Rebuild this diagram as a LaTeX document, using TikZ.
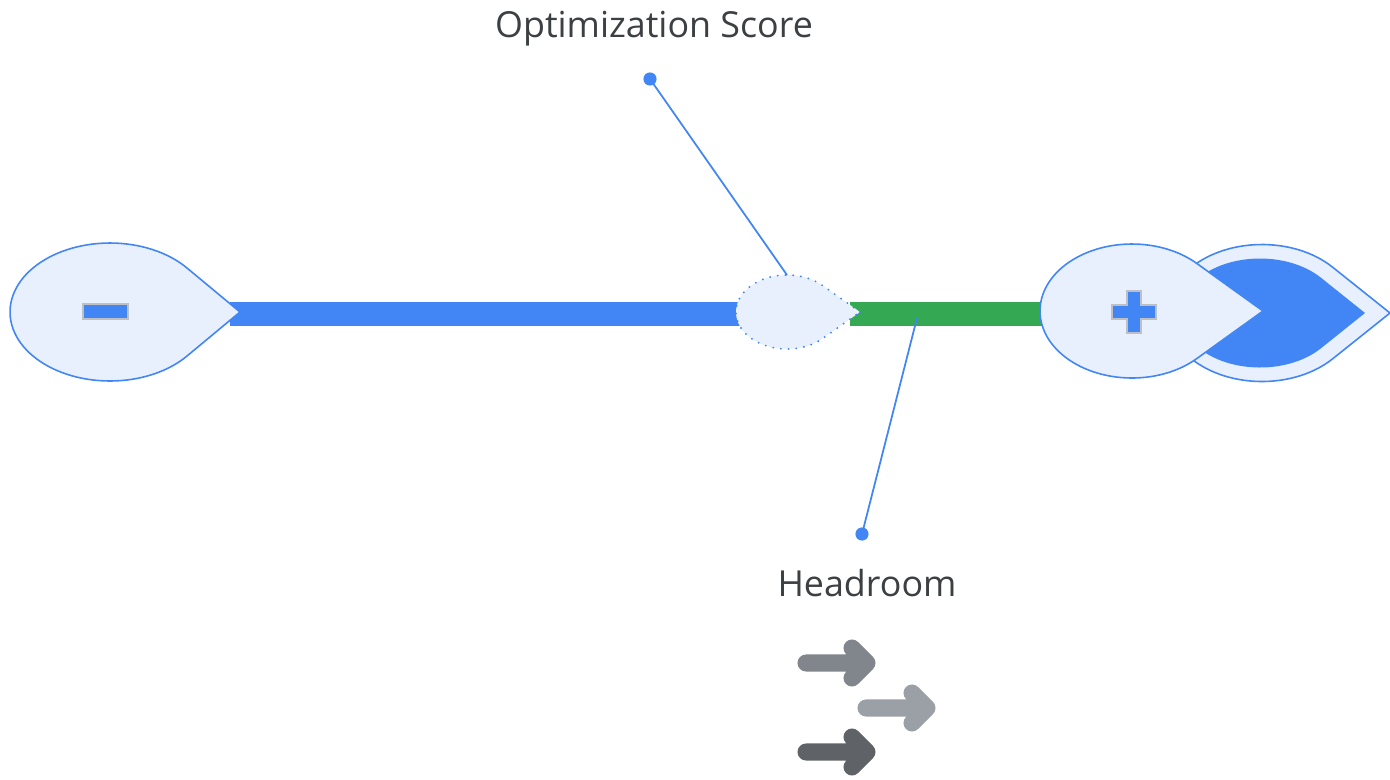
\documentclass[tikz,border=0pt]{standalone}
\usepackage{fontspec}
\setmainfont{Open Sans}
\usetikzlibrary{positioning}

\definecolor{gblue}{HTML}{4285F4}
\definecolor{gpale}{HTML}{E8F0FE}
\definecolor{ggreen}{HTML}{34A853}
\definecolor{signedge}{HTML}{BDC1C6}
\definecolor{textgray}{HTML}{3C4043}
\definecolor{arrowmid}{HTML}{80868B}
\definecolor{arrowlight}{HTML}{9AA0A6}
\definecolor{arrowdark}{HTML}{5F6368}

% teardrop: options, centre x, centre y, x radius, y radius, tip x
\newcommand\dropshape[6]{%
  \pgfmathsetmacro\dropang{acos(#4/(#6-#2))}%
  \pgfmathsetmacro\dropend{360-\dropang}%
  \path[#1] (#6,#3) -- plot[domain=\dropang:\dropend, samples=90]
    ({#2+#4*cos(\x)},{#3-#5*sin(\x)}) -- cycle;}

\begin{document}
\begin{tikzpicture}[x=0.02cm, y=-0.02cm,
    pin/.style={fill=gpale, draw=gblue, line width=0.9pt},
    leader/.style={draw=gblue, line width=1pt},
    leaderdot/.style={circle, fill=gblue, inner sep=0pt, minimum size=7.5pt},
    caption/.style={font=\fontsize{20.4}{24}\selectfont, text=textgray, inner sep=0pt},
    sign/.style={fill=gblue, draw=signedge, line width=1.1pt},
    icon/.style={line width=9.7pt, line cap=round, line join=round}]
  \useasboundingbox (0,0) rectangle (1390,779);

  \fill[gblue]  (230,302) rectangle (750,326);
  \fill[ggreen] (850,302) rectangle (1060,326);

  \dropshape{pin}{110}{312}{100}{69}{240}
  \filldraw[sign] (83,304) rectangle (128,319);

  \dropshape{fill=gpale, draw=gblue, line width=1.2pt, dash pattern=on 0pt off 4.4pt, line cap=round}{787}{312}{51}{37}{860}

  \dropshape{pin}{1262}{313}{95}{68.5}{1390}
  \dropshape{fill=gblue}{1260}{313}{80}{54.5}{1365}
  \dropshape{pin}{1132}{311}{92}{67}{1263}
  \filldraw[sign] (1127,291) -- (1141,291) -- (1141,305) -- (1156,305) -- (1156,319)
    -- (1141,319) -- (1141,333) -- (1127,333) -- (1127,319) -- (1112,319)
    -- (1112,305) -- (1127,305) -- cycle;

  \node (scoretext) [caption, anchor=base] at (654,37) {Optimization Score};
  \node (scoredot)  [leaderdot] at (650,79) {};
  \coordinate (scoretop) at (787,275);
  \draw[leader] (scoredot.center) -- (scoretop);

  \coordinate (headbar) at (917,318);
  \node (headdot)  [leaderdot] at (862,534) {};
  \node (headtext) [caption, anchor=base] at (867,596) {Headroom};
  \draw[leader] (headbar) -- (headdot.center);

  \foreach \ax/\ay/\ac in {806/663/arrowmid, 866/708/arrowlight, 806/752/arrowdark}
    \draw[icon, \ac] (\ax,\ay) -- ++(61,0) ++(-15,-15) -- ++(15,15) -- ++(-15,15);
\end{tikzpicture}
\end{document}
